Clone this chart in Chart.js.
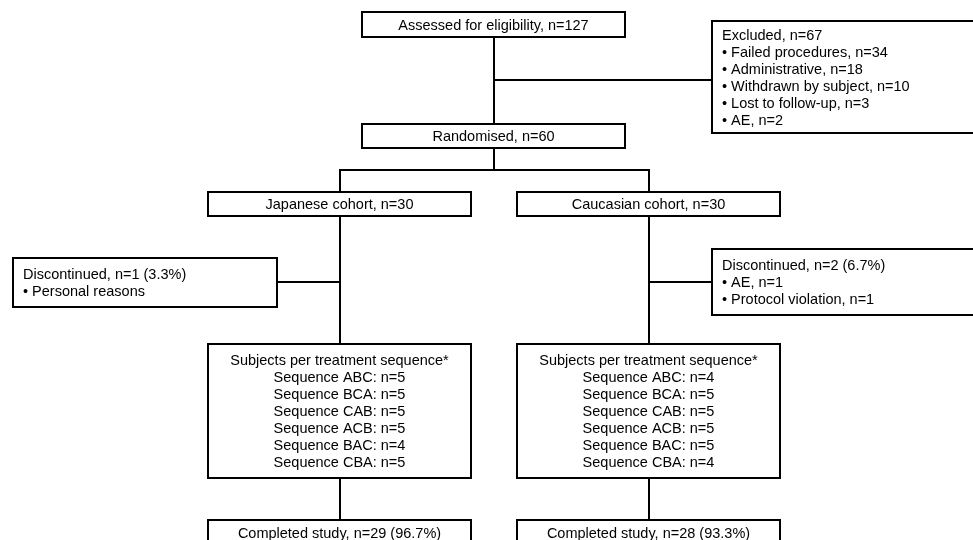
<!DOCTYPE html>
<html lang="en">
<head>
    <meta charset="UTF-8">
    <title>Study flow</title>
    <script src="https://cdn.jsdelivr.net/npm/chart.js"></script>
    <style>
        body { margin: 0; background: #fff; }
        canvas { display: block; }
    </style>
</head>
<body>
    <canvas id="chart" width="973" height="540"></canvas>

    <script>
        // counts
        const assessedN = 127;
        const randomisedN = 60;
        const excludedN = 67;
        const excludedReasons = ['Failed procedures', 'Administrative', 'Withdrawn by subject', 'Lost to follow-up', 'AE'];
        const excludedCounts = [34, 18, 10, 3, 2];

        const cohorts = ['Japanese cohort', 'Caucasian cohort'];
        const cohortN = [30, 30];
        const discontinuedN = [1, 2];
        const discontinuedPct = ['3.3%', '6.7%'];
        const discontinuedReasons = [['Personal reasons'], ['AE', 'Protocol violation']];
        const discontinuedReasonN = [[null], [1, 1]];

        const sequences = ['ABC', 'BCA', 'CAB', 'ACB', 'BAC', 'CBA'];
        const sequenceN = [[5, 5, 5, 5, 4, 5], [4, 5, 5, 5, 5, 4]];

        const completedN = [29, 28];
        const completedPct = ['96.7%', '93.3%'];

        const W = 973, H = 540;
        const LINE = 17;
        const FONT = '14.5px "Liberation Sans", Arial, sans-serif';

        // box layout (px in the 973x540 frame)
        const colX = [208, 517];
        const boxW = 263;
        const discY = 282;
        const boxes = {
            assessed:   { x: 362, y: 12,  w: boxW, h: 25, align: 'center',
                          lines: [`Assessed for eligibility, n=${assessedN}`] },
            excluded:   { x: 712, y: 21,  w: boxW, h: 112, align: 'left',
                          lines: [`Excluded, n=${excludedN}`].concat(excludedReasons.map((r, i) => `• ${r}, n=${excludedCounts[i]}`)) },
            randomised: { x: 362, y: 124, w: boxW, h: 24, align: 'center',
                          lines: [`Randomised, n=${randomisedN}`] }
        };
        const discX = [13, 712];
        cohorts.forEach((c, i) => {
            boxes['cohort' + i] = { x: colX[i], y: 192, w: boxW, h: 24, align: 'center',
                lines: [`${c}, n=${cohortN[i]}`] };
            const reasons = discontinuedReasons[i].map((r, j) =>
                discontinuedReasonN[i][j] == null ? `• ${r}` : `• ${r}, n=${discontinuedReasonN[i][j]}`);
            const nl = reasons.length + 1;
            const dh = nl * LINE + 15;
            boxes['disc' + i] = { x: discX[i], y: Math.round(discY - dh / 2), w: 264, h: dh, align: 'left',
                lines: [`Discontinued, n=${discontinuedN[i]} (${discontinuedPct[i]})`].concat(reasons) };
            boxes['seq' + i] = { x: colX[i], y: 344, w: boxW, h: 134, align: 'center',
                lines: ['Subjects per treatment sequence*'].concat(sequences.map((s, j) => `Sequence ${s}: n=${sequenceN[i][j]}`)) };
            boxes['done' + i] = { x: colX[i], y: 520, w: boxW, h: 25, align: 'center',
                lines: [`Completed study, n=${completedN[i]} (${completedPct[i]})`] };
        });

        const cx = b => b.x + Math.round(b.w / 2);
        const bottom = b => b.y + b.h;

        // connectors built from the box layout
        const mainX = cx(boxes.assessed);
        const splitY = 170;
        const connectors = [
            [[mainX, bottom(boxes.assessed)], [mainX, boxes.randomised.y]],
            [[mainX, 80], [boxes.excluded.x, 80]],
            [[mainX, bottom(boxes.randomised)], [mainX, splitY]],
            [[cx(boxes.cohort0), boxes.cohort0.y], [cx(boxes.cohort0), splitY], [cx(boxes.cohort1), splitY], [cx(boxes.cohort1), boxes.cohort1.y]]
        ];
        [0, 1].forEach(i => {
            const c = boxes['cohort' + i], s = boxes['seq' + i], d = boxes['disc' + i], f = boxes['done' + i];
            connectors.push([[cx(c), bottom(c)], [cx(s), s.y]]);
            connectors.push([[cx(s), bottom(s)], [cx(f), f.y]]);
            const dEdge = i === 0 ? d.x + d.w : d.x;
            connectors.push([[cx(c), discY], [dEdge, discY]]);
        });

        const boxPlugin = {
            id: 'flowBoxes',
            afterDatasetsDraw(chart) {
                const ctx = chart.ctx;
                const xs = chart.scales.x, ys = chart.scales.y;
                ctx.save();
                Object.values(boxes).forEach(b => {
                    const x0 = xs.getPixelForValue(b.x), x1 = xs.getPixelForValue(b.x + b.w);
                    const y0 = ys.getPixelForValue(b.y), y1 = ys.getPixelForValue(b.y + b.h);
                    ctx.fillStyle = '#fff';
                    ctx.fillRect(x0, y0, x1 - x0, y1 - y0);
                    ctx.strokeStyle = '#000';
                    ctx.lineWidth = 2;
                    ctx.strokeRect(x0, y0, x1 - x0, y1 - y0);

                    ctx.font = FONT;
                    ctx.fillStyle = '#000';
                    ctx.textBaseline = 'middle';
                    ctx.textAlign = b.align;
                    const tx = b.align === 'center' ? (x0 + x1) / 2 : x0 + 10;
                    const first = (y0 + y1) / 2 - (b.lines.length - 1) * LINE / 2;
                    b.lines.forEach((t, k) => ctx.fillText(t, tx, first + k * LINE + 1));
                });
                ctx.restore();
            }
        };

        const chart = new Chart(document.getElementById('chart').getContext('2d'), {
            type: 'scatter',
            data: {
                datasets: connectors.map(seg => ({
                    data: seg.map(p => ({ x: p[0], y: p[1] })),
                    showLine: true,
                    borderColor: '#000',
                    borderWidth: 2,
                    pointRadius: 0,
                    fill: false,
                    clip: false
                }))
            },
            options: {
                responsive: false,
                animation: false,
                events: [],
                layout: { padding: 0 },
                plugins: {
                    legend: { display: false },
                    tooltip: { enabled: false }
                },
                scales: {
                    x: { type: 'linear', display: false, min: 0, max: W },
                    y: { type: 'linear', display: false, min: 0, max: H, reverse: true }
                }
            },
            plugins: [boxPlugin]
        });
    </script>
</body>
</html>
